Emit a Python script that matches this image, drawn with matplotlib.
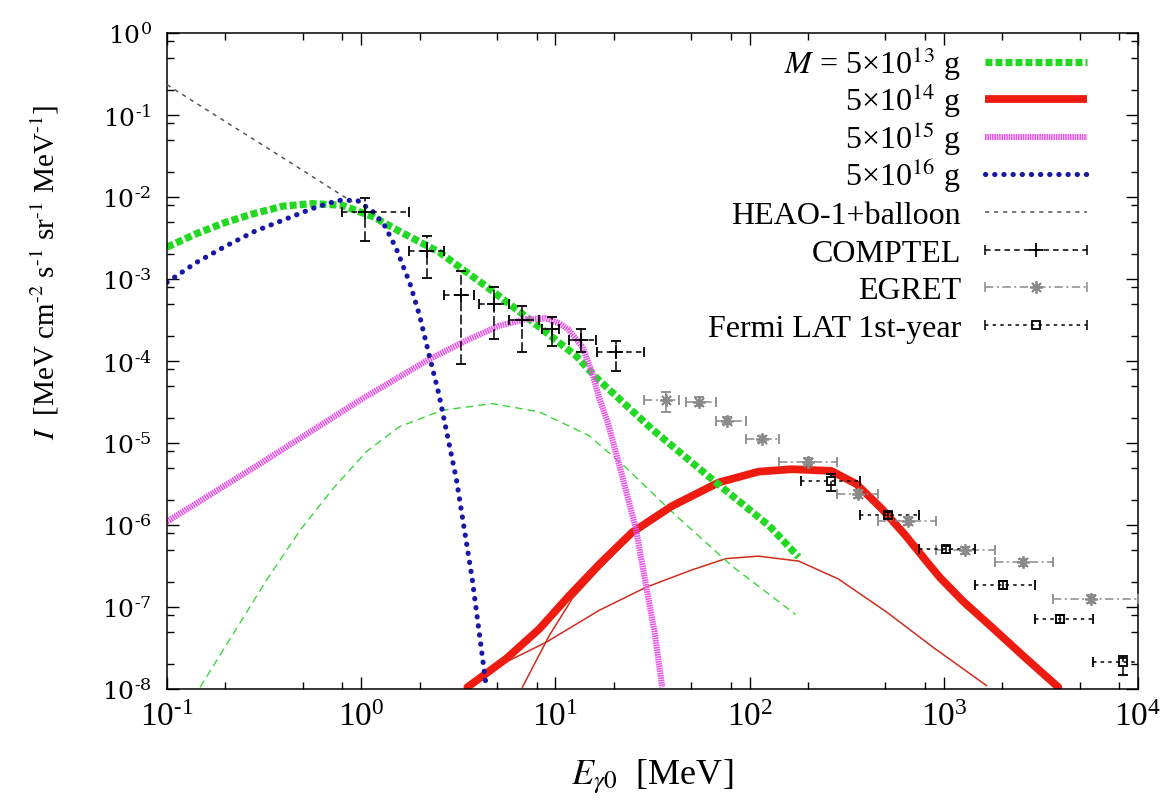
import numpy as np
import matplotlib
matplotlib.use("Agg")
import matplotlib.pyplot as plt
from matplotlib.ticker import LogLocator, NullFormatter, FuncFormatter

plt.rcParams['font.family'] = ['Liberation Serif', 'DejaVu Serif']
plt.rcParams['mathtext.fontset'] = 'stix'
plt.rcParams['lines.scale_dashes'] = False

# ---------------- model spectra (E in MeV, I in MeV cm^-2 s^-1 sr^-1 MeV^-1) ----------------
m13_E = [0.1, 0.141, 0.2, 0.282, 0.398, 0.562, 0.794, 1.15, 1.58, 2.51, 4.57, 7.33,
         12.8, 16.2, 31.4, 67.0, 126, 179]
m13_I = [2.45e-3, 3.55e-3, 4.9e-3, 6.3e-3, 7.76e-3, 8.3e-3, 7.94e-3, 5.75e-3, 3.8e-3,
         2.14e-3, 7.6e-4, 3.24e-4, 1.15e-4, 6.3e-5, 1.48e-5, 3.31e-6, 9.8e-7, 4.07e-7]

m13_sec_E = [0.148, 0.219, 0.324, 0.482, 0.713, 1.067, 1.574, 2.618, 4.73, 8.26, 14.9,
             23.1, 39.8, 81.1, 172.6]
m13_sec_I = [1.05e-8, 4.68e-8, 2.09e-7, 8.5e-7, 2.75e-6, 7.9e-6, 1.58e-5, 2.51e-5, 3.02e-5,
             2.4e-5, 1.23e-5, 5.0e-6, 1.45e-6, 3.16e-7, 8.1e-8]

m14_E = [3.52, 5.58, 8.26, 11.8, 16.8, 24.8, 39.8, 69.5, 111, 165, 263, 355, 479, 631,
         832, 955, 1259, 1778, 2630, 3890]
m14_I = [1.05e-8, 2.34e-8, 5.4e-8, 1.38e-7, 3.31e-7, 8.1e-7, 1.70e-6, 3.31e-6, 4.47e-6,
         4.79e-6, 4.57e-6, 3.16e-6, 1.58e-6, 7.6e-7, 3.39e-7, 2.29e-7, 1.17e-7, 5.6e-8,
         2.4e-8, 1.05e-8]

m14_pri_E = [6.76, 9.29, 12.2, 16.8, 24.8, 39.8]
m14_pri_I = [1.05e-8, 4.47e-8, 1.26e-7, 2.88e-7, 7.4e-7, 1.58e-6]

m14_sec_E = [4.41, 8.97, 16.8, 29.3, 50.1, 75.5, 111, 179, 287, 507, 891, 1660]
m14_sec_I = [1.62e-8, 3.72e-8, 9.1e-8, 1.74e-7, 2.82e-7, 3.89e-7, 4.17e-7, 3.63e-7,
             2.19e-7, 8.7e-8, 3.16e-8, 1.1e-8]

m15_E = [0.1, 0.316, 1.0, 2.24, 3.55, 5.13, 7.08, 8.91, 10.5, 11.7, 13.8, 15.5, 16.8,
         18.6, 21.4, 26.0, 29.3, 32.4, 35.5]
m15_I = [1.1e-6, 6.0e-6, 3.4e-5, 1.05e-4, 1.82e-4, 2.69e-4, 3.24e-4, 3.31e-4, 2.88e-4,
         2.4e-4, 1.48e-4, 7.1e-5, 3.55e-5, 1.78e-5, 5.25e-6, 8.9e-7, 1.82e-7, 5.0e-8,
         1.05e-8]

m16_E = [0.1, 0.141, 0.2, 0.282, 0.398, 0.562, 0.759, 0.955, 1.15, 1.32, 1.51, 1.78,
         2.0, 2.24, 2.51, 3.09, 3.73, 4.41]
m16_I = [9.1e-4, 1.58e-3, 2.51e-3, 3.8e-3, 5.25e-3, 7.24e-3, 9.1e-3, 9.1e-3, 6.6e-3,
         4.47e-3, 2.4e-3, 8.9e-4, 3.55e-4, 1.17e-4, 3.98e-5, 3.63e-6, 2.19e-7, 1.05e-8]

heao_E = [0.1, 0.2, 0.4, 0.9]
heao_I = [0.234, 0.083, 0.0295, 0.0087]

# ---------------- measurements ----------------
comptel_E = [1.04, 2.17, 3.28, 4.85, 6.75, 9.64, 13.6, 20.5]
comptel_Elo = [0.793, 1.77, 2.68, 4.06, 5.79, 8.55, 11.8, 16.4]
comptel_Ehi = [1.77, 2.68, 3.83, 5.79, 8.26, 10.46, 16.2, 28.6]
comptel_I = [6.6e-3, 2.19e-3, 6.3e-4, 5.0e-4, 3.16e-4, 2.45e-4, 1.82e-4, 1.29e-4]
comptel_Ilo = [2.9e-3, 1.03e-3, 9.2e-5, 1.85e-4, 1.29e-4, 1.52e-4, 1.29e-4, 7.55e-5]
comptel_Ihi = [9.7e-3, 3.34e-3, 1.25e-3, 8.0e-4, 4.69e-4, 3.44e-4, 2.46e-4, 1.75e-4]

egret_E = [37.1, 54.8, 76.4, 116, 201, 360, 658, 1288, 2564, 5741]
egret_Elo = [28.6, 47.0, 67.0, 95.5, 141, 281, 461, 916, 1841, 3656]
egret_Ehi = [43.3, 67.0, 95.5, 141, 281, 461, 916, 1841, 3656, 1.0e4]
egret_I = [3.31e-5, 3.16e-5, 1.86e-5, 1.12e-5, 5.9e-6, 2.4e-6, 1.12e-6, 4.9e-7, 3.55e-7, 1.26e-7]
egret_Ilo = [2.4e-5, 2.8e-5, 1.7e-5, 1.02e-5, 5.4e-6, 2.15e-6, 1.0e-6, 4.4e-7, 3.2e-7, 1.12e-7]
egret_Ihi = [4.2e-5, 3.6e-5, 2.05e-5, 1.23e-5, 6.5e-6, 2.65e-6, 1.25e-6, 5.4e-7, 3.9e-7, 1.4e-7]

fermi_E = [261, 519, 1030, 2023, 3981, 8375]
fermi_Elo = [185, 372, 741, 1452, 2958, 5875]
fermi_Ehi = [372, 741, 1452, 2958, 5875, 1.17e4]
fermi_I = [3.47e-6, 1.32e-6, 5.1e-7, 1.86e-7, 7.1e-8, 2.14e-8]
fermi_Ilo = [2.6e-6, 1.2e-6, 4.6e-7, 1.65e-7, 6.3e-8, 1.5e-8]
fermi_Ihi = [4.2e-6, 1.45e-6, 5.6e-7, 2.1e-7, 8.0e-8, 2.5e-8]

legend_labels = [r"$M$ = 5×10$^{13}$ g", r"5×10$^{14}$ g",
                 r"5×10$^{15}$ g", r"5×10$^{16}$ g",
                 "HEAO-1+balloon", "COMPTEL", "EGRET", "Fermi LAT 1st-year"]

# ---------------- styles ----------------
GREEN = '#22d822'
RED = '#ee1c10'
RED_THIN = '#d22c1c'
MAGENTA = '#ea50ea'
BLUE = '#1818a8'
GRAY = '#555555'
EGRET_GRAY = '#8a8a8a'

sty_m13 = dict(color=GREEN, lw=5.2, dashes=(5.0, 2.2))
sty_m13s = dict(color='#38d838', lw=1.0, dashes=(5.5, 3.5))
sty_m14 = dict(color=RED, lw=5.6, solid_capstyle='round', solid_joinstyle='round')
sty_m14t = dict(color=RED_THIN, lw=1.1)
sty_m15 = dict(color=MAGENTA, lw=4.4, dashes=(1.1, 0.6))
sty_m16 = dict(color=BLUE, lw=3.7, dashes=(0.2, 6.4), dash_capstyle='round')
sty_heao = dict(color=GRAY, lw=1.1, dashes=(3.0, 3.5))

fig = plt.figure(figsize=(11.6, 8.12), dpi=100)
ax = fig.add_axes([167 / 1160, 1 - 690 / 812, 971 / 1160, 656 / 812])
ax.set_xscale('log')
ax.set_yscale('log')
ax.set_xlim(0.1, 1e4)
ax.set_ylim(1e-8, 1)

# model curves
ax.plot(m14_sec_E, m14_sec_I, zorder=2, **sty_m14t)
ax.plot(m14_pri_E, m14_pri_I, zorder=2, **sty_m14t)
ax.plot(m14_E, m14_I, zorder=2.2, **sty_m14)
ax.plot(m13_sec_E, m13_sec_I, zorder=2.1, **sty_m13s)
ax.plot(m13_E, m13_I, zorder=2.3, **sty_m13)
ax.plot(m15_E, m15_I, zorder=2.4, **sty_m15)
ax.plot(m16_E, m16_I, zorder=2.5, **sty_m16)
ax.plot(heao_E, heao_I, zorder=2.6, **sty_heao)


def draw_points(E, Elo, Ehi, I, Ilo, Ihi, color, marker, ms, dash):
    E = np.asarray(E, float)
    I = np.asarray(I, float)
    xerr = [E - np.asarray(Elo), np.asarray(Ehi) - E]
    yerr = [I - np.asarray(Ilo), np.asarray(Ihi) - I]
    eb = ax.errorbar(E, I, xerr=xerr, yerr=yerr, ls='none', marker=marker,
                     color=color, ms=ms, mfc='none', mec=color, mew=1.3,
                     elinewidth=1.1, capsize=3.6, capthick=1.1, zorder=5)
    xcol, ycol = eb[2]
    xcol.set_linestyle((0, dash))
    ycol.set_linestyle((0, (7.0, 2.5)))
    return eb


draw_points(comptel_E, comptel_Elo, comptel_Ehi, comptel_I, comptel_Ilo, comptel_Ihi,
            'black', '+', 10, (4.0, 3.0))
draw_points(egret_E, egret_Elo, egret_Ehi, egret_I, egret_Ilo, egret_Ihi,
            EGRET_GRAY, (8, 2, 0), 9, (6.0, 2.5, 1.5, 2.5))
draw_points(fermi_E, fermi_Elo, fermi_Ehi, fermi_I, fermi_Ilo, fermi_Ihi,
            'black', 's', 6, (2.5, 3.0))

# ---------------- axes styling ----------------
for sp in ax.spines.values():
    sp.set_linewidth(1.1)
ax.xaxis.set_major_locator(LogLocator(base=10, numticks=20))
ax.yaxis.set_major_locator(LogLocator(base=10, numticks=20))
ax.xaxis.set_minor_locator(LogLocator(base=10, subs=(2, 5, 8), numticks=40))
ax.yaxis.set_minor_locator(LogLocator(base=10, subs=(2, 5, 8), numticks=40))
ax.xaxis.set_minor_formatter(NullFormatter())
ax.yaxis.set_minor_formatter(NullFormatter())


def decade_label(v, pos):
    k = int(round(np.log10(v)))
    if k < 0:
        return r"$\mathdefault{10^{\text{-}%d}}$" % (-k)
    return r"$\mathdefault{10^{%d}}$" % k


dec = FuncFormatter(decade_label)
ax.xaxis.set_major_formatter(dec)
ax.yaxis.set_major_formatter(dec)
ax.tick_params(which='both', direction='in', top=True, right=True, width=1.0)
ax.tick_params(which='major', length=8.5)
ax.tick_params(which='minor', length=5.0)
ax.tick_params(axis='x', which='major', labelsize=24, pad=9)
ax.tick_params(axis='y', which='major', labelsize=18, pad=11,
               labelfontfamily='DejaVu Serif')

ax.set_xlabel(r"$E_{\gamma 0}$  [MeV]", fontsize=26)
ax.xaxis.set_label_coords(0.5, (690 - 777) / 656)
ax.xaxis.label.set_va('center')
ax.set_ylabel(r"$I$  [MeV cm$^{\text{-}2}$ s$^{\text{-}1}$ sr$^{\text{-}1}$ MeV$^{\text{-}1}$]",
              fontsize=21)
ax.yaxis.set_label_coords((45 - 167) / 971, (690 - 272) / 656)
ax.yaxis.label.set_va('center')

# ---------------- key ----------------
key_y = [(690 - y) / 656 for y in (62.7, 100, 137.7, 175, 212.7, 250.7, 288, 326)]
kx0, kx1 = (985 - 167) / 971, (1087 - 167) / 971
kxt = (961 - 167) / 971
kxc = 0.5 * (kx0 + kx1)
base_off = 11 / 656
line_styles = [sty_m13, sty_m14, sty_m15, sty_m16, sty_heao]
for y, lab in zip(key_y, legend_labels):
    ax.text(kxt, y - base_off, lab, transform=ax.transAxes, ha='right',
            va='baseline', fontsize=23, zorder=6)
for y, st in zip(key_y[:5], line_styles):
    st = dict(st)
    st.pop('solid_capstyle', None)
    ax.plot([kx0, kx1], [y, y], transform=ax.transAxes, clip_on=False, zorder=6,
            solid_capstyle='butt', **st)

pt_styles = [('black', '+', 10, (4.0, 3.0)),
             (EGRET_GRAY, (8, 2, 0), 9, (6.0, 2.5, 1.5, 2.5)),
             ('black', 's', 6, (2.5, 3.0))]
for y, (c, mk, ms, dash) in zip(key_y[5:], pt_styles):
    ax.plot([kx0, kx1], [y, y], transform=ax.transAxes, clip_on=False, color=c,
            lw=1.1, dashes=dash, zorder=6)
    ax.plot([kx0, kx1], [y, y], transform=ax.transAxes, clip_on=False, color=c,
            ls='none', marker='|', ms=7.2, mew=1.1, zorder=6)
    ax.plot([kxc], [y], transform=ax.transAxes, clip_on=False, color=c, ls='none',
            marker=mk, ms=ms, mfc='none', mec=c, mew=1.3, zorder=6)

fig.savefig('out.png', dpi=100)
